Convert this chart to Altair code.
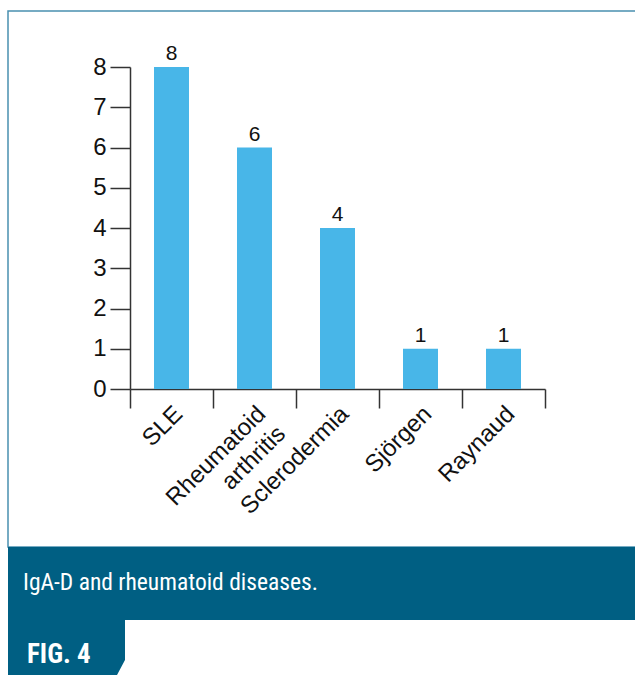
import altair as alt
import pandas as pd

categories = ["SLE", "Rheumatoid arthritis", "Sclerodermia", "Sjörgen", "Raynaud"]
counts = [8, 6, 4, 1, 1]
y_ticks = [0, 1, 2, 3, 4, 5, 6, 7, 8]
caption = "IgA-D and rheumatoid diseases."
fig_label = "FIG. 4"

df = pd.DataFrame({"disease": categories, "n": counts})

W, H = 415, 322
PL, PT = 130, 67
CW, CH = 635, 675

BAR = "#48b6e8"
TEAL = "#005f83"
BORDER = "#4a90b0"
AXIS = "#333333"
NARROW = "Liberation Sans Narrow, Roboto Condensed, DejaVu Sans Condensed, sans-serif"
FONT = "Liberation Sans, Arial, Helvetica, sans-serif"

x_enc = alt.X(
    "disease:N",
    sort=categories,
    scale=alt.Scale(paddingInner=0, paddingOuter=0),
    axis=alt.Axis(
        title=None,
        labelAngle=-45,
        labelAlign="right",
        labelBaseline="middle",
        labelFontSize=24,
        labelFont=FONT,
        labelColor="#111111",
        labelPadding=2,
        labelOffset=7,
        labelLineHeight=28,
        labelExpr="datum.label == 'Rheumatoid arthritis' ? ['Rheumatoid', 'arthritis'] : datum.label",
        tickBand="extent",
        tickSize=19,
        tickColor=AXIS,
        tickWidth=1.5,
        domainColor=AXIS,
        domainWidth=1.5,
    ),
)
y_enc = alt.Y(
    "n:Q",
    scale=alt.Scale(domain=[0, 8], nice=False),
    axis=alt.Axis(
        title=None,
        values=y_ticks,
        grid=False,
        labelFontSize=24,
        labelFont=FONT,
        labelColor="#111111",
        labelPadding=4,
        tickSize=20,
        tickColor=AXIS,
        tickWidth=1.5,
        domainColor=AXIS,
        domainWidth=1.5,
    ),
)

base = alt.Chart(df)
bars = base.mark_bar(size=35, color=BAR).encode(x=x_enc, y=y_enc)
values = base.mark_text(
    fontSize=21, font=FONT, color="#111111", baseline="alphabetic", dy=-7
).encode(x=alt.X("disease:N", sort=categories), y="n:Q", text="n:Q")

deco = alt.Chart(pd.DataFrame({"k": [0]}))
border = deco.mark_rect(fill=None, stroke=BORDER, strokeWidth=1.5).encode(
    x=alt.value(8 - PL), x2=alt.value(CW + 10 - PL),
    y=alt.value(11 - PT), y2=alt.value(547 - PT),
)
band = deco.mark_rect(fill=TEAL).encode(
    x=alt.value(8 - PL), x2=alt.value(CW + 10 - PL),
    y=alt.value(547 - PT), y2=alt.value(620 - PT),
)
tab = deco.mark_rect(fill=TEAL).encode(
    x=alt.value(8 - PL), x2=alt.value(125 - PL),
    y=alt.value(619 - PT), y2=alt.value(CH + 5 - PT),
)
cut = deco.mark_point(
    shape="M 0.53 -1 L 0.53 1 L -0.53 1 Z", filled=True, fill="white",
    opacity=1, strokeWidth=0, size=225,
).encode(x=alt.value(121 - PL), y=alt.value(667.5 - PT))
cap = deco.mark_text(
    text=caption, font=NARROW, fontSize=23.5, color="white", align="left", baseline="alphabetic"
).encode(x=alt.value(23 - PL), y=alt.value(590 - PT))
fig = deco.mark_text(
    text=fig_label, font=NARROW, fontSize=27, fontWeight="bold", color="white",
    align="left", baseline="alphabetic",
).encode(x=alt.value(27 - PL), y=alt.value(663 - PT))

chart = alt.layer(border, band, tab, cut, cap, fig, bars, values).properties(
    width=W, height=H,
    padding={"left": PL, "top": PT, "right": CW - PL - W, "bottom": CH - PT - H},
    autosize=alt.AutoSizeParams(type="none"),
    background="white",
).configure_view(stroke=None)

chart.save("out.html", embed_options={"renderer": "svg", "actions": False})
